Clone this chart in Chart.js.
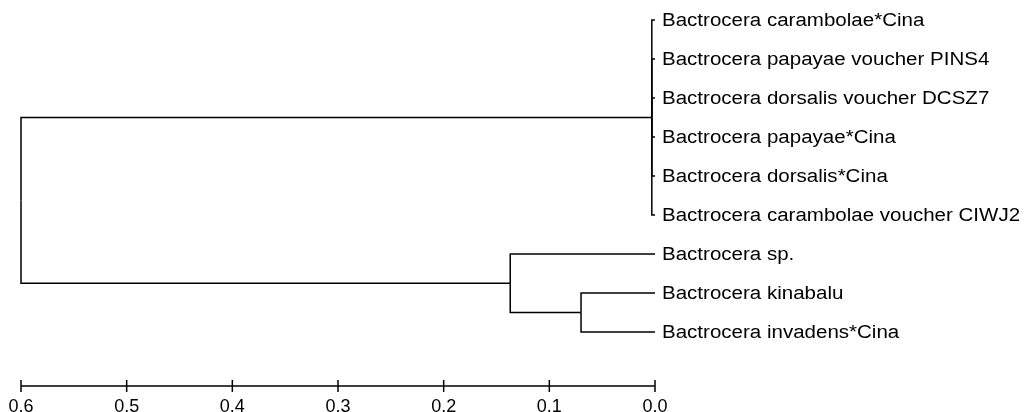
<!DOCTYPE html>
<html>
<head>
<meta charset="utf-8">
<script src="https://cdn.jsdelivr.net/npm/chart.js@4.4.1/dist/chart.umd.min.js"></script>
<style>
  html, body { margin: 0; padding: 0; background: #fff; }
  #wrap { width: 1025px; height: 412px; }
</style>
</head>
<body>
<div id="wrap"><canvas id="treeChart"></canvas></div>
<script>
// leaves, top to bottom
const leafNames = [
    'Bactrocera carambolae*Cina',
    'Bactrocera papayae voucher PINS4',
    'Bactrocera dorsalis voucher DCSZ7',
    'Bactrocera papayae*Cina',
    'Bactrocera dorsalis*Cina',
    'Bactrocera carambolae voucher CIWJ2',
    'Bactrocera sp.',
    'Bactrocera kinabalu',
    'Bactrocera invadens*Cina'
];
// internal nodes: ids 9, 10, 11, 12 (children refer to leaf index or node id)
const nodeChildren = [[0, 1, 2, 3, 4, 5], [7, 8], [6, 10], [9, 11]];
const nodeHeights = [0.003, 0.070, 0.137, 0.600];
const scaleTicks = [0.0, 0.1, 0.2, 0.3, 0.4, 0.5, 0.6];

const barLevel = 9.38;
const nLeaves = leafNames.length;

// position of every leaf / node in (distance, row) space
const pos = {};
leafNames.forEach(function(name, i) { pos[i] = { x: 0, y: i }; });
nodeChildren.forEach(function(kids, k) {
    const ys = kids.map(function(c) { return pos[c].y; });
    pos[nLeaves + k] = { x: nodeHeights[k], y: (Math.min.apply(null, ys) + Math.max.apply(null, ys)) / 2 };
});

const lineStyle = {
    borderColor: '#000',
    borderWidth: 1.5,
    pointRadius: 0,
    fill: false,
    tension: 0,
    clip: false
};

const datasets = [];
nodeChildren.forEach(function(kids, k) {
    const p = pos[nLeaves + k];
    kids.forEach(function(c) {
        const ch = pos[c];
        datasets.push(Object.assign({
            data: [{ x: ch.x, y: ch.y }, { x: p.x, y: ch.y }, { x: p.x, y: p.y }]
        }, lineStyle));
    });
});

// scale bar
datasets.push({
    data: scaleTicks.map(function(t) { return { x: t, y: barLevel }; }),
    borderColor: '#000',
    borderWidth: 1.5,
    pointStyle: 'line',
    rotation: 90,
    pointRadius: 6,
    pointBorderColor: '#000',
    pointBorderWidth: 1.5,
    fill: false,
    clip: false
});

const leafLabels = {
    id: 'leafLabels',
    afterDatasetsDraw: function(chart) {
        const ctx = chart.ctx;
        const xs = chart.scales.x, ys = chart.scales.y;
        ctx.save();
        ctx.font = '18px "Liberation Sans", Arial, sans-serif';
        ctx.fillStyle = '#000';
        ctx.textAlign = 'left';
        ctx.textBaseline = 'middle';
        leafNames.forEach(function(name, i) {
            ctx.save();
            ctx.translate(xs.getPixelForValue(0) + 7, ys.getPixelForValue(i) + 1);
            ctx.scale(1.14, 1);
            ctx.fillText(name, 0, 0);
            ctx.restore();
        });
        ctx.restore();
    }
};

new Chart(document.getElementById('treeChart').getContext('2d'), {
    type: 'line',
    data: { datasets: datasets },
    plugins: [leafLabels],
    options: {
        responsive: true,
        maintainAspectRatio: false,
        animation: false,
        layout: {
            autoPadding: false,
            padding: { left: 21, right: 370, top: 0, bottom: 0 }
        },
        plugins: {
            legend: { display: false },
            tooltip: { enabled: false }
        },
        scales: {
            x: {
                type: 'linear',
                min: 0,
                max: 0.6,
                reverse: true,
                grid: { display: false, drawTicks: false },
                border: { display: false },
                afterFit: function(scale) {
                    scale.paddingLeft = 0;
                    scale.paddingRight = 0;
                    scale.height = 26;
                },
                ticks: {
                    stepSize: 0.1,
                    maxRotation: 0,
                    padding: 10,
                    color: '#000',
                    font: { family: '"Liberation Sans", Arial, sans-serif', size: 18 },
                    callback: function(v) { return v.toFixed(1); }
                }
            },
            y: {
                type: 'linear',
                display: false,
                reverse: true,
                min: -0.513,
                max: 9.382
            }
        }
    }
});
</script>
</body>
</html>
